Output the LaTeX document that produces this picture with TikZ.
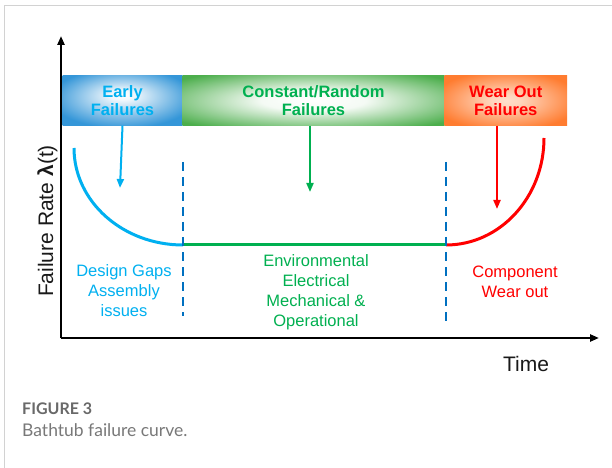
\documentclass[tikz,border=0pt]{standalone}
\usepackage{fontspec}
\setmainfont{Liberation Sans}
\newfontfamily\capfont{Lato}
\usetikzlibrary{arrows.meta}

\definecolor{bandB}{RGB}{52,150,216}
\definecolor{bandG}{RGB}{76,174,76}
\definecolor{bandO}{RGB}{255,124,48}
\definecolor{txtB}{RGB}{0,176,240}
\definecolor{txtG}{RGB}{0,176,80}
\definecolor{txtR}{RGB}{255,0,0}
\definecolor{dashB}{RGB}{0,112,192}
\definecolor{framec}{RGB}{210,210,210}
\definecolor{capc}{RGB}{105,105,105}

\pgfdeclareradialshading{shB}{\pgfpoint{0bp}{6bp}}{color(0bp)=(white); color(5bp)=(white!92!bandB); color(30bp)=(bandB); color(50bp)=(bandB)}
\pgfdeclareradialshading{shG}{\pgfpoint{0bp}{0bp}}{color(0bp)=(white); color(10bp)=(white!94!bandG); color(33bp)=(bandG); color(50bp)=(bandG)}
\pgfdeclareradialshading{shO}{\pgfpoint{0bp}{0bp}}{color(0bp)=(white!75!bandO); color(6bp)=(white!68!bandO); color(30bp)=(bandO); color(50bp)=(bandO)}

\tikzset{
  bandbox/.style={rectangle, inner sep=0pt, minimum height=50bp, align=center,
    font=\fontsize{16.5bp}{18bp}\selectfont\bfseries},
  lbl/.style={inner sep=0pt, align=center, font=\fontsize{16.5bp}{19.8bp}\selectfont},
  axislbl/.style={inner sep=0pt, font=\fontsize{21bp}{24bp}\selectfont, text=black!90},
  axisline/.style={line width=2.4bp, black, -{Triangle[length=9bp,width=7bp]}},
  pointer/.style={line width=2bp, -{Triangle[length=9bp,width=7bp]}},
  curve/.style={line width=3bp},
  divider/.style={line width=2.6bp, dashB, dash pattern=on 9bp off 6bp},
}

\begin{document}
\begin{tikzpicture}[x=1bp,y=-1bp]
\useasboundingbox (0,0) rectangle (612,468);
\fill[white] (0,0) rectangle (612,468);
% card frame
\draw[framec, line width=1.6bp] (4.5,468) -- (4.5,5.5) -- (612,5.5);

% bands
\node[bandbox, shading=shB, minimum width=120bp, text=txtB] (early) at (122.5,100.5) {Early\\Failures};
\node[bandbox, shading=shG, minimum width=262bp, text=txtG] (const) at (313.5,100.5) {Constant/Random\\Failures};
\node[bandbox, shading=shO, minimum width=122.5bp, text=txtR] (wear) at (505.75,100.5) {Wear Out\\Failures};

% axes
\coordinate (O) at (61,338);
\coordinate (ytip) at (61,36);
\coordinate (xtip) at (599,338);
\draw[axisline] (O) -- (ytip);
\draw[axisline] (O) -- (xtip);

% curve
\coordinate (b0) at (74,148);
\coordinate (d1) at (183,245);
\coordinate (d2) at (446,245);
\coordinate (r1) at (544,138);
\draw[curve, txtB] (b0) .. controls (74,201.6) and (122.8,245) .. (d1);
\draw[curve, txtG] (d1) -- (d2);
\draw[curve, txtR] (d2) .. controls (500.1,245) and (544,197.1) .. (r1);

% dividers
\coordinate (v1t) at (183,162); \coordinate (v1b) at (183,316);
\coordinate (v2t) at (446,162); \coordinate (v2b) at (446,326);
\draw[divider] (v1t) -- (v1b);
\draw[divider] (v2t) -- (v2b);

% pointers
\coordinate (btip) at (120,188);
\coordinate (gtip) at (310,192);
\coordinate (rtip) at (497,209);
\draw[pointer, txtB] (early.south) -- (btip);
\draw[pointer, txtG] (const.south -| gtip) -- (gtip);
\draw[pointer, txtR] (wear.south -| rtip) -- (rtip);

% labels
\node[lbl, text=txtB] (dg) at (124,290.6) {Design Gaps\\Assembly\\issues};
\node[lbl, text=txtG] (env) at (316,292.3) {Environmental\\Electrical\\Mechanical \&\\Operational};
\node[lbl, text=txtR] (cw) at (515,281.7) {Component\\Wear out};

\node[axislbl, anchor=base] (time) at (526,371) {Time};
\node[axislbl, anchor=base, rotate=90] (frate) at (53,221) {Failure Rate \textbf{λ}(t)};

% caption
\node[anchor=base west, inner sep=0pt, text=capc, font=\capfont\fontsize{16bp}{18bp}\selectfont\bfseries] (fig) at (22,414) {FIGURE 3};
\node[anchor=base west, inner sep=0pt, text=capc!90, font=\capfont\fontsize{17.5bp}{20bp}\selectfont] (cap) at (22,436) {Bathtub failure curve.};
\end{tikzpicture}
\end{document}
